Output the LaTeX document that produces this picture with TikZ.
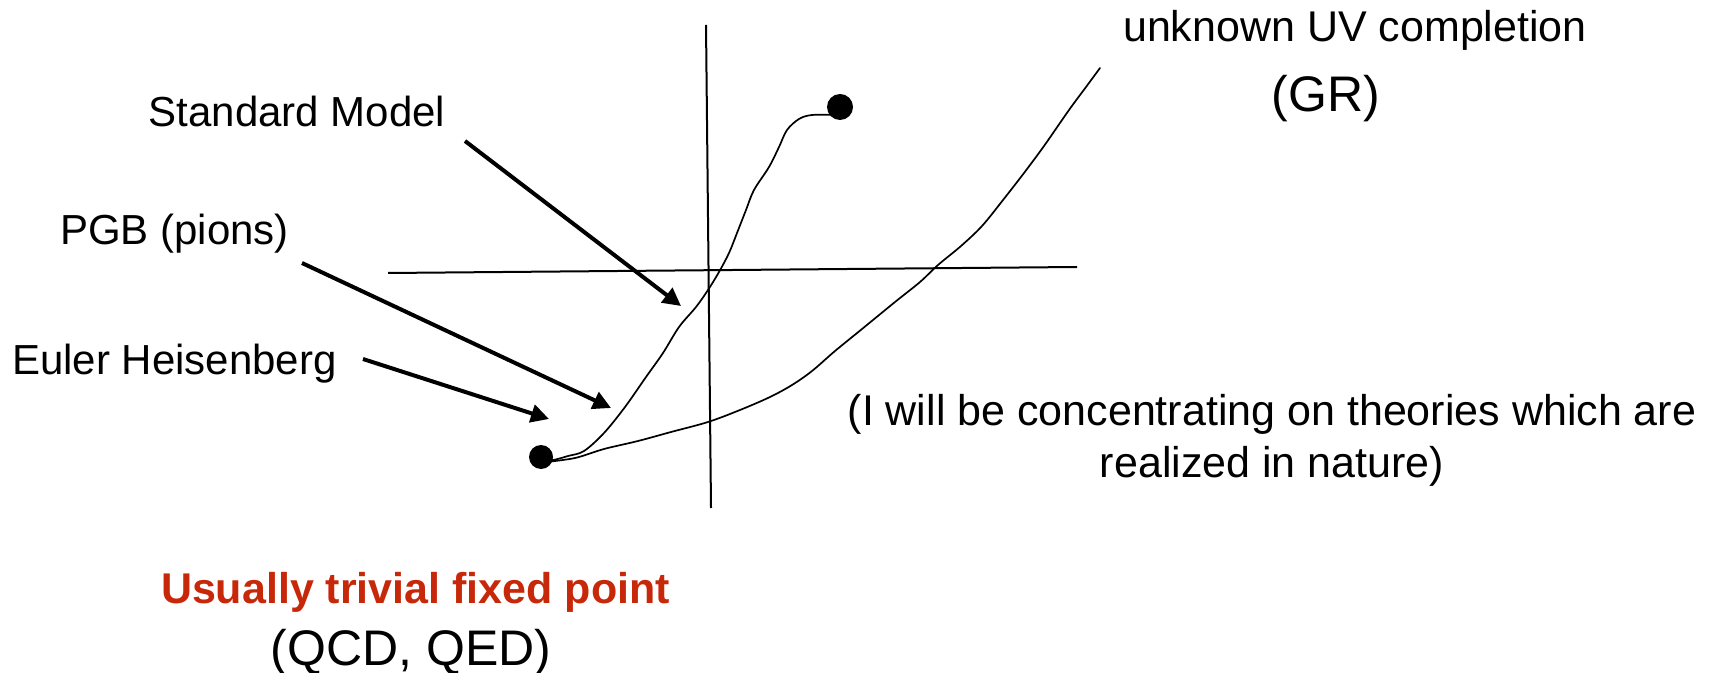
\documentclass[tikz,border=0pt]{standalone}
\usepackage{fontspec}
\setmainfont{Liberation Sans}
\usetikzlibrary{arrows.meta}
\definecolor{fpred}{RGB}{200,40,10}
\begin{document}
\begin{tikzpicture}[x=0.5pt,y=-0.5pt,
  lbl/.style={inner sep=0pt, anchor=base, font=\fontsize{21}{25}\selectfont},
  note/.style={inner sep=0pt, anchor=base, font=\fontsize{21.5}{26}\selectfont},
  big/.style={inner sep=0pt, anchor=base, font=\fontsize{25}{30}\selectfont},
  redlbl/.style={inner sep=0pt, anchor=base, font=\fontsize{21.5}{26}\selectfont\bfseries, text=fpred},
  axis/.style={line width=1pt},
  flow/.style={line width=0.85pt, line join=round, line cap=round},
  pointer/.style={line width=2pt, -{Triangle[length=9pt,width=9pt]}},
  fixpt/.style={circle, fill=black, inner sep=0pt}]
\useasboundingbox (0,0) rectangle (1727,673);

% axes
\coordinate (vtop) at (706,25);
\coordinate (vbot) at (711,508);
\coordinate (hl) at (388,273);
\coordinate (hr) at (1077,267);
\draw[axis] (vtop) -- (vbot);
\draw[axis] (hl) -- (hr);

% RG flows
\draw[flow] plot[smooth, tension=0.55] coordinates {
  (544,459) (553,460) (568,456) (584,451) (604,433) (625,407) (646,377)
  (663,353) (679,327) (696,307) (708,290) (719,272) (729,253) (737,233)
  (746,210) (754,190) (769,167) (779,147) (787,130) (799,119) (812,115) (836,115)};
\draw[flow] plot[smooth, tension=0.55] coordinates {
  (546,462) (575,458) (604,449) (638,441) (671,432) (708,422) (740,410)
  (770,397) (792,385) (812,371) (835,351) (862,329) (895,302) (920,282)
  (938,265) (961,246) (982,226) (1003,200) (1024,173) (1044,146) (1069,110)
  (1086,87) (1100,68)};

% fixed points
\node[fixpt, minimum size=13pt] (uvpt) at (840,107) {};
\node[fixpt, minimum size=12pt] (irpt) at (541,457) {};

% labels
\node[lbl] (sm) at (297,127) {Standard Model};
\node[lbl] (pgb) at (174.5,245) {PGB (pions)};
\node[lbl] (eh) at (174.5,374) {Euler Heisenberg};
\node[note] (uv) at (1355,42) {unknown UV completion};
\node[big] (gr) at (1326,112) {(GR)};
\node[note] (note1) at (1272,425) {(I will be concentrating on theories which are};
\node[note] (note2) at (1272,477) {realized in nature)};
\node[redlbl] (triv) at (415.5,603) {Usually trivial fixed point};
\node[big] (qcd) at (411,665) {(QCD, QED)};

% pointers
\coordinate (smS) at (465,141);
\coordinate (smE) at (681,306);
\coordinate (pgbS) at (302,263);
\coordinate (pgbE) at (611,408);
\coordinate (ehS) at (363,359);
\coordinate (ehE) at (549,419);
\draw[pointer] (smS) -- (smE);
\draw[pointer] (pgbS) -- (pgbE);
\draw[pointer] (ehS) -- (ehE);
\end{tikzpicture}
\end{document}
